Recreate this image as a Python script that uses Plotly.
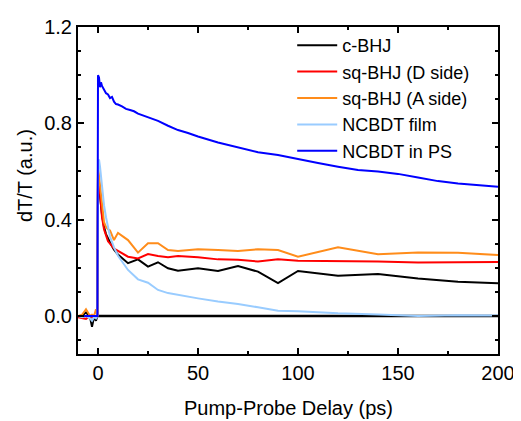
import plotly.graph_objects as go

t_main = [-10, -8, -6, -4, -3, -2, -1, -0.3, 0, 0.5, 1, 2, 3, 4, 5, 6, 8, 10, 15, 20,
          25, 30, 35, 40, 50, 60, 70, 80, 90, 100, 120, 140, 160, 180, 200]
c_bhj = [0, 0, 0.015, -0.005, -0.045, -0.005, -0.02, 0, 0.58, 0.55, 0.50, 0.42, 0.37, 0.34,
         0.32, 0.305, 0.275, 0.255, 0.219, 0.235, 0.205, 0.223, 0.198, 0.188, 0.198, 0.187,
         0.207, 0.184, 0.136, 0.187, 0.167, 0.174, 0.156, 0.142, 0.136]
sq_d = [-0.005, -0.01, -0.012, 0.0, -0.005, 0.0, -0.005, 0, 0.60, 0.56, 0.50, 0.41, 0.36, 0.33,
        0.31, 0.30, 0.28, 0.27, 0.246, 0.239, 0.257, 0.249, 0.244, 0.249, 0.244, 0.235,
        0.233, 0.226, 0.235, 0.229, 0.229, 0.226, 0.222, 0.224, 0.224]
sq_a = [0, 0.005, 0.028, 0.0, 0.005, 0.0, 0.028, 0, 0.62, 0.58, 0.52, 0.44, 0.39, 0.37,
        0.36, 0.355, 0.315, 0.345, 0.315, 0.263, 0.302, 0.302, 0.274, 0.27, 0.277, 0.274,
        0.27, 0.277, 0.274, 0.246, 0.285, 0.256, 0.264, 0.262, 0.253]
film = [0, -0.005, 0, -0.01, -0.02, -0.005, -0.01, 0, 0.60, 0.65, 0.62, 0.53, 0.46, 0.41,
        0.37, 0.33, 0.285, 0.25, 0.191, 0.152, 0.138, 0.108, 0.095, 0.087, 0.073, 0.06,
        0.05, 0.036, 0.022, 0.02, 0.011, 0.006, 0.0, 0.003, 0.002]

t_ps = [-10, -8, -6, -4, -2, -1, -0.3, 0, 0.5, 1, 1.5, 2, 3, 4, 5, 6, 7, 8, 9, 10, 12, 14,
        16, 18, 20, 25, 30, 35, 40, 45, 50, 60, 70, 80, 90, 100, 110, 120, 130, 140, 150,
        160, 170, 180, 190, 200]
in_ps = [0, 0, 0, 0, 0, 0, 0, 1.0, 0.99, 0.95, 0.97, 0.955, 0.94, 0.925, 0.92, 0.905, 0.91,
         0.89, 0.88, 0.878, 0.87, 0.86, 0.855, 0.85, 0.84, 0.825, 0.81, 0.79, 0.772, 0.76,
         0.745, 0.72, 0.70, 0.68, 0.668, 0.65, 0.635, 0.62, 0.606, 0.60, 0.59, 0.575, 0.56,
         0.55, 0.543, 0.537]

zero_x = [0, 200]
zero_y = [0, 0]

names = ["c-BHJ", "sq-BHJ (D side)", "sq-BHJ (A side)", "NCBDT film", "NCBDT in PS"]
colors = ["#000000", "#ff0000", "#ff8c1a", "#99ccff", "#0000ff"]
x_title = "Pump-Probe Delay (ps)"
y_title = "dT/T (a.u.)"

fig = go.Figure()
fig.add_trace(go.Scatter(x=zero_x, y=zero_y, mode="lines", showlegend=False,
                         line=dict(color="black", width=2.5), hoverinfo="skip"))
series = [(t_main, c_bhj), (t_main, sq_d), (t_main, sq_a), (t_main, film), (t_ps, in_ps)]
for (xs, ys), n, c in zip(series, names, colors):
    fig.add_trace(go.Scatter(x=xs, y=ys, mode="lines", name=n,
                             line=dict(color=c, width=2)))

axis_common = dict(showline=True, linecolor="black", linewidth=2, mirror="allticks",
                   ticks="inside", ticklen=6, tickwidth=2, tickcolor="black",
                   showgrid=False, zeroline=False, automargin=False,
                   tickfont=dict(size=20, color="black"))
fig.update_xaxes(range=[-10, 200], tick0=0, dtick=50,
                 minor=dict(dtick=25, ticks="inside", ticklen=3, tickwidth=2, tickcolor="black"),
                 **axis_common)
fig.update_yaxes(range=[-0.158, 1.2], tick0=0, dtick=0.4, tickformat=".1f",
                 minor=dict(dtick=0.1, ticks="inside", ticklen=3, tickwidth=2, tickcolor="black"),
                 **axis_common)
fig.add_annotation(text=x_title, xref="paper", yref="paper", x=0.5, y=0,
                   xanchor="center", yanchor="middle", yshift=-54, showarrow=False,
                   font=dict(size=20, color="black"))
fig.add_annotation(text=y_title, xref="paper", yref="paper", x=0, y=0.544,
                   xanchor="center", yanchor="middle", xshift=-53, textangle=-90,
                   showarrow=False, font=dict(size=20, color="black"))
fig.update_layout(width=513, height=413,
                  margin=dict(l=70, r=23, t=19, b=67),
                  paper_bgcolor="white", plot_bgcolor="white",
                  font=dict(family="Liberation Sans, Arial, sans-serif", size=20, color="black"),
                  legend=dict(x=0.51, y=1.0, xanchor="left", yanchor="top",
                              bgcolor="rgba(0,0,0,0)", font=dict(size=18),
                              tracegroupgap=0, itemwidth=40))
fig.write_html("out.html")
